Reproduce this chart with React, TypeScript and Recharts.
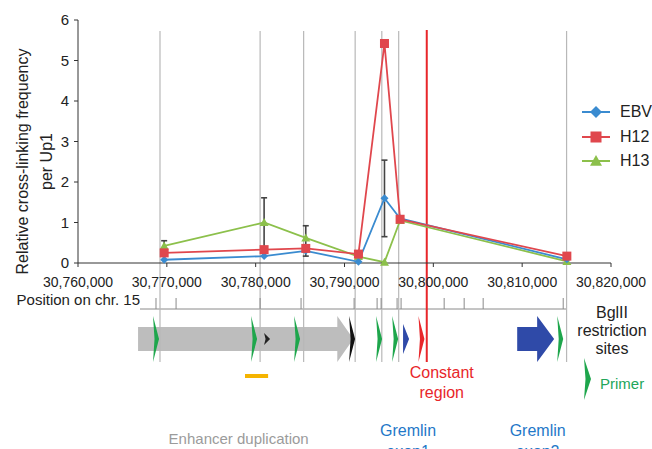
import {
  ComposedChart, Line, XAxis, YAxis, ErrorBar, ReferenceLine, ReferenceArea, Label,
} from "recharts";

// 3C data: primer positions on chr. 15 and relative cross-linking frequency
const positions = [30769700, 30780950, 30785640, 30791570, 30794500, 30796260, 30815030];
const ebv = [0.08, 0.17, 0.3, 0.03, 1.6, 1.1, 0.09];
const h12 = [0.25, 0.33, 0.36, 0.22, 5.42, 1.08, 0.17];
const h13 = [0.42, 1.0, 0.62, 0.16, 0.02, 1.05, 0.04];
const ebvErr = [null, null, null, null, [0.95, 0.94], null, null];
const h13Err = [[0.12, 0.13], [0.75, 0.61], [0.45, 0.3], null, null, null, null];

const xTicks = [30760000, 30770000, 30780000, 30790000, 30800000, 30810000, 30820000];
const yTicks = [0, 1, 2, 3, 4, 5, 6];

// annotation track
const primerLines = [30769230, 30780500, 30785400, 30791200, 30794200, 30796100, 30815000];
const greenPrimers = [30769120, 30780160, 30785000, 30794230, 30796040, 30814620];
const blackPrimers = [30791190];
const smallBlack = [30781620];
const exonMarks = [30797270];
const constantMarks = [30799000];
const constantLine = 30799260;
const bglSites = [
  30768780, 30771040, 30780500, 30785110, 30791080, 30793670, 30794120,
  30795920, 30796370, 30801220, 30803470, 30805610, 30814620,
];
const posAxis = [30766980, 30814955];
const enhancerArrow = [30766760, 30790990];
const exon2Arrow = [30809440, 30813600];
const duplicationBar = [30778800, 30781400];

const data = positions.map((pos, i) => ({
  pos, ebv: ebv[i], h12: h12[i], h13: h13[i], ebvErr: ebvErr[i], h13Err: h13Err[i],
}));

const FONT = "'Liberation Sans', Arial, Helvetica, sans-serif";
const C_EBV = "#3a8bd0";
const C_H12 = "#e0474d";
const C_H13 = "#8cc04b";
const GREEN = "#1ea64c";

const fmt = (v: number) => v.toLocaleString("en-US");
const bottomOf = (p: any) => Math.max(p.y1, p.y2);
const topOf = (p: any) => Math.min(p.y1, p.y2);

const diamond = (cx: number, cy: number, r: number, fill: string, key?: any) => (
  <polygon key={key} points={`${cx},${cy - r} ${cx + r},${cy} ${cx},${cy + r} ${cx - r},${cy}`} fill={fill} />
);
const square = (cx: number, cy: number, r: number, fill: string, key?: any) => (
  <rect key={key} x={cx - r} y={cy - r} width={2 * r} height={2 * r} fill={fill} />
);
const triangle = (cx: number, cy: number, r: number, fill: string, key?: any) => (
  <polygon key={key} points={`${cx},${cy - r} ${cx + r},${cy + r * 0.8} ${cx - r},${cy + r * 0.8}`} fill={fill} />
);

const primerShape = (color: string, half: number) => (p: any) => {
  const b = bottomOf(p);
  const x = p.x1;
  return (
    <polygon
      points={`${x - 6},${b + 76 - half} ${x},${b + 76} ${x - 6},${b + 76 + half} ${x - 4.5},${b + 76}`}
      fill={color}
    />
  );
};

function YLabel(props: any) {
  const { viewBox } = props;
  const cy = viewBox.y + viewBox.height / 2 + 20;
  return (
    <g fontFamily={FONT} fontSize={16} fill="#222">
      <text x={22} y={cy} transform={`rotate(-90, 22, ${cy})`} textAnchor="middle" dominantBaseline="central">
        Relative cross-linking frequency
      </text>
      <text x={46} y={cy} transform={`rotate(-90, 46, ${cy})`} textAnchor="middle" dominantBaseline="central">
        per Up1
      </text>
    </g>
  );
}

function LegendIcon({ kind, color }: { kind: string; color: string }) {
  return (
    <svg width={28} height={16} style={{ display: "block" }}>
      <line x1={0} x2={28} y1={8} y2={8} stroke={color} strokeWidth={2} />
      {kind === "d" && diamond(14, 8, 6, color)}
      {kind === "s" && square(14, 8, 5.5, color)}
      {kind === "t" && triangle(14, 8, 6, color)}
    </svg>
  );
}

export default function App() {
  return (
    <div style={{ position: "absolute", left: 0, top: 0, width: 652, height: 449, background: "#fff", fontFamily: FONT, overflow: "hidden" }}>
      <ComposedChart width={652} height={449} data={data} margin={{ top: 20, right: 41, bottom: 156, left: 0 }}>
        <XAxis
          dataKey="pos"
          type="number"
          domain={[30760000, 30820000]}
          ticks={xTicks}
          tickFormatter={fmt}
          height={30}
          tickSize={4}
          tickMargin={10}
          stroke="#333"
          tick={{ fill: "#222", fontSize: 14, fontFamily: FONT }}
          interval={0}
        />
        <YAxis
          type="number"
          domain={[0, 6]}
          ticks={yTicks}
          width={78}
          tickSize={4}
          tickMargin={5}
          stroke="#333"
          tick={{ fill: "#222", fontSize: 15, fontFamily: FONT }}
        >
          <Label content={<YLabel />} />
        </YAxis>

        {primerLines.map((x) => (
          <ReferenceLine key={`pl${x}`} x={x} shape={(p: any) => (
            <line x1={p.x1} x2={p.x1} y1={topOf(p) + 11} y2={bottomOf(p) + 99} stroke="#b8b8b8" strokeWidth={1.2} />
          )} />
        ))}

        <ReferenceArea x1={posAxis[0]} x2={posAxis[1]} shape={(p: any) => {
          const b = p.y + p.height;
          return (
            <g>
              <line x1={p.x} x2={p.x + p.width} y1={b + 46} y2={b + 46} stroke="#8a8a8a" strokeWidth={1} />
              <text x={p.x} y={b + 42} textAnchor="end" fontFamily={FONT} fontSize={15} fill="#222">Position on chr. 15</text>
            </g>
          );
        }} fill="none" />
        {bglSites.map((x) => (
          <ReferenceLine key={`bg${x}`} x={x} shape={(p: any) => (
            <line x1={p.x1} x2={p.x1} y1={bottomOf(p) + 35} y2={bottomOf(p) + 46} stroke="#8a8a8a" strokeWidth={1} />
          )} />
        ))}

        <ReferenceArea x1={enhancerArrow[0]} x2={enhancerArrow[1]} shape={(p: any) => {
          const b = p.y + p.height;
          const x0 = p.x, x1 = p.x + p.width, h = x1 - 16;
          return (
            <g>
              <polygon
                points={`${x0},${b + 64} ${h},${b + 64} ${h},${b + 53} ${x1},${b + 76} ${h},${b + 99} ${h},${b + 88} ${x0},${b + 88}`}
                fill="#bdbdbd"
              />
              <text x={(x0 + x1) / 2 - 7} y={b + 181} textAnchor="middle" fontFamily={FONT} fontSize={15} fill="#9b9b9b">
                Enhancer duplication
              </text>
            </g>
          );
        }} />
        <ReferenceArea x1={exon2Arrow[0]} x2={exon2Arrow[1]} shape={(p: any) => {
          const b = p.y + p.height;
          const x0 = p.x, x1 = p.x + p.width, h = x1 - 17;
          return (
            <g>
              <polygon
                points={`${x0},${b + 64} ${h},${b + 64} ${h},${b + 53} ${x1},${b + 76} ${h},${b + 99} ${h},${b + 88} ${x0},${b + 88}`}
                fill="#2f4aa8"
              />
              <text textAnchor="middle" fontFamily={FONT} fontSize={16} fill="#1f78c8">
                <tspan x={(x0 + x1) / 2 + 2} y={b + 173}>Gremlin</tspan>
                <tspan x={(x0 + x1) / 2 + 2} y={b + 194}>exon2</tspan>
              </text>
            </g>
          );
        }} />
        <ReferenceArea x1={duplicationBar[0]} x2={duplicationBar[1]} shape={(p: any) => {
          const b = p.y + p.height;
          return <rect x={p.x} y={b + 111} width={p.width} height={4} fill="#f5b400" />;
        }} />

        {greenPrimers.map((x) => (
          <ReferenceLine key={`gp${x}`} x={x} shape={primerShape(GREEN, 23)} />
        ))}
        {blackPrimers.map((x) => (
          <ReferenceLine key={`bp${x}`} x={x} shape={primerShape("#111", 23)} />
        ))}
        {smallBlack.map((x) => (
          <ReferenceLine key={`sb${x}`} x={x} shape={primerShape("#222", 6)} />
        ))}
        {exonMarks.map((x) => (
          <ReferenceLine key={`ex${x}`} x={x} shape={(p: any) => {
            const b = bottomOf(p);
            return (
              <g>
                <polygon points={`${p.x1 - 6},${b + 61} ${p.x1},${b + 76} ${p.x1 - 6},${b + 91}`} fill="#2f4aa8" />
                <text textAnchor="middle" fontFamily={FONT} fontSize={16} fill="#1f78c8">
                  <tspan x={p.x1 - 1} y={b + 173}>Gremlin</tspan>
                  <tspan x={p.x1 - 1} y={b + 194}>exon1</tspan>
                </text>
              </g>
            );
          }} />
        ))}
        {constantMarks.map((x) => (
          <ReferenceLine key={`cm${x}`} x={x} shape={primerShape("#e8262a", 23)} />
        ))}
        <ReferenceLine x={constantLine} shape={(p: any) => {
          const b = bottomOf(p);
          return (
            <g>
              <line x1={p.x1} x2={p.x1} y1={topOf(p) + 10} y2={b + 99} stroke="#e8262a" strokeWidth={2} />
              <text textAnchor="middle" fontFamily={FONT} fontSize={16} fill="#e8262a">
                <tspan x={p.x1 + 15} y={b + 115}>Constant</tspan>
                <tspan x={p.x1 + 15} y={b + 135}>region</tspan>
              </text>
            </g>
          );
        }} />

        <Line dataKey="h13" stroke={C_H13} strokeWidth={1.8} isAnimationActive={false}
          dot={(p: any) => triangle(p.cx, p.cy, 4.5, C_H13, `t${p.index}`)}>
          <ErrorBar dataKey="h13Err" width={3} stroke="#444" strokeWidth={1.6} direction="y" />
        </Line>
        <Line dataKey="ebv" stroke={C_EBV} strokeWidth={1.8} isAnimationActive={false}
          dot={(p: any) => diamond(p.cx, p.cy, 4, C_EBV, `d${p.index}`)}>
          <ErrorBar dataKey="ebvErr" width={3} stroke="#444" strokeWidth={1.6} direction="y" />
        </Line>
        <Line dataKey="h12" stroke={C_H12} strokeWidth={1.8} isAnimationActive={false}
          dot={(p: any) => square(p.cx, p.cy, 4.5, C_H12, `s${p.index}`)} />
      </ComposedChart>

      <div style={{ position: "absolute", left: 582, top: 100, fontSize: 16, color: "#222", lineHeight: "24.5px" }}>
        {[
          { name: "EBV", kind: "d", color: C_EBV },
          { name: "H12", kind: "s", color: C_H12 },
          { name: "H13", kind: "t", color: C_H13 },
        ].map((s) => (
          <div key={s.name} style={{ display: "flex", alignItems: "center", height: 24.5 }}>
            <LegendIcon kind={s.kind} color={s.color} />
            <span style={{ marginLeft: 10 }}>{s.name}</span>
          </div>
        ))}
      </div>

      <div style={{ position: "absolute", left: 572, top: 304, width: 80, textAlign: "center", fontSize: 16, lineHeight: "18px", color: "#222" }}>
        BglII<br />restriction<br />sites
      </div>
      <svg style={{ position: "absolute", left: 584, top: 358 }} width={10} height={42}>
        <polygon points="0,0 7,21 0,42 1.5,21" fill={GREEN} />
      </svg>
      <div style={{ position: "absolute", left: 600, top: 375, fontSize: 15, color: "#22a65a" }}>Primer</div>
    </div>
  );
}
